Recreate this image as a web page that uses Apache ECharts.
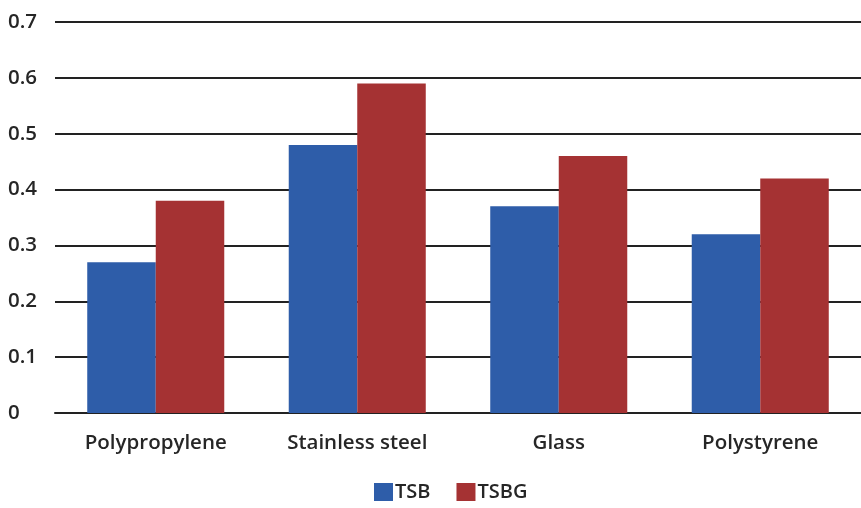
<!DOCTYPE html>
<html>
<head>
<meta charset="utf-8">
<script src="https://cdn.jsdelivr.net/npm/echarts@6/dist/echarts.min.js"></script>
<style>
  html, body { margin: 0; padding: 0; background: #ffffff; }
  #chart { width: 861px; height: 508px; }
</style>
</head>
<body>
<div id="chart"></div>
<script>
// Surface materials on the category axis
const categories = ['Polypropylene', 'Stainless steel', 'Glass', 'Polystyrene'];
// Measured values per material
const tsbValues = [0.27, 0.48, 0.37, 0.32];
const tsbgValues = [0.38, 0.59, 0.46, 0.42];
// Value-axis ticks
const yTicks = [0, 0.1, 0.2, 0.3, 0.4, 0.5, 0.6, 0.7];

const fontFamily = '"Open Sans", Lato, sans-serif';
const textColor = '#262626';

const chart = echarts.init(document.getElementById('chart'), null, { renderer: 'canvas' });
chart.setOption({
  animation: false,
  backgroundColor: '#ffffff',
  grid: { left: 55, right: 0, top: 22, bottom: 95, containLabel: false },
  legend: {
    bottom: 1,
    left: 369,
    itemWidth: 19,
    itemHeight: 18,
    itemGap: 26,
    icon: 'rect',
    textStyle: { fontFamily, fontSize: 20, fontWeight: 600, color: textColor, padding: [0, 0, 0, -3] },
    data: ['TSB', 'TSBG']
  },
  xAxis: {
    type: 'category',
    data: categories,
    axisLine: { show: true, lineStyle: { color: '#222', width: 2 } },
    axisTick: { show: false },
    axisLabel: { fontFamily, fontSize: 20.5, fontWeight: 600, color: textColor, margin: 20 }
  },
  yAxis: {
    type: 'value',
    min: yTicks[0],
    max: yTicks[yTicks.length - 1],
    interval: 0.1,
    axisLine: { show: false },
    axisTick: { show: false },
    axisLabel: {
      fontFamily, fontSize: 20.5, fontWeight: 600, color: textColor, margin: 47, align: 'left',
      formatter: v => (Math.round(v * 10) / 10).toString()
    },
    splitLine: { lineStyle: { color: '#222', width: 2 } }
  },
  series: [
    {
      name: 'TSB', type: 'bar', data: tsbValues,
      itemStyle: { color: '#2E5DA9' },
      barGap: '0%', barCategoryGap: '32%'
    },
    {
      name: 'TSBG', type: 'bar', data: tsbgValues,
      itemStyle: { color: '#A53233' },
      barGap: '0%', barCategoryGap: '32%'
    }
  ]
});
</script>
</body>
</html>
